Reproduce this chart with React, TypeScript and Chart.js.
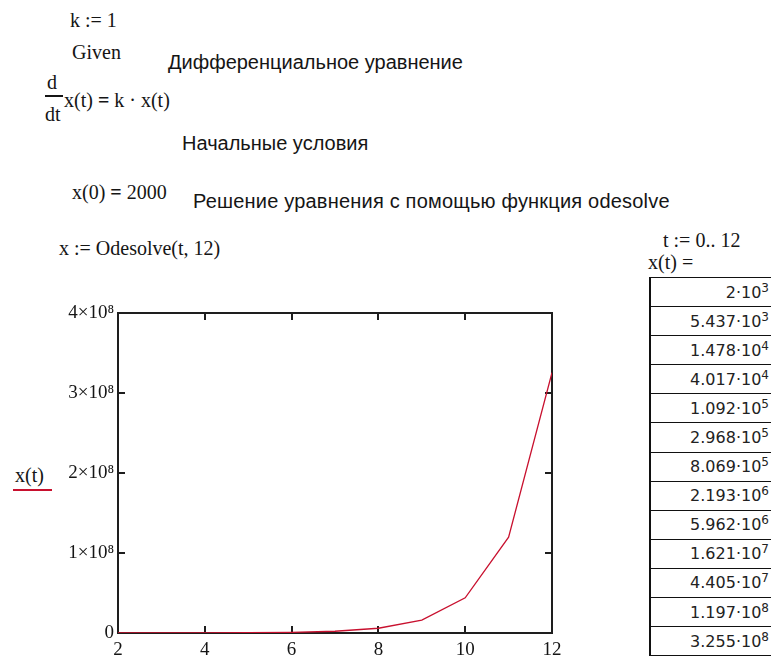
import React, { useEffect, useRef } from "react";
import { Chart, registerables } from "chart.js";

Chart.register(...registerables);

// ---- data ----
const tValues = [0, 1, 2, 3, 4, 5, 6, 7, 8, 9, 10, 11, 12];
const xValues = [
  2000, 5437, 14780, 40170, 109200, 296800, 806900, 2193000, 5962000,
  16210000, 44050000, 119700000, 325500000,
];
const tableMantissas = [
  "2", "5.437", "1.478", "4.017", "1.092", "2.968", "8.069", "2.193",
  "5.962", "1.621", "4.405", "1.197", "3.255",
];
const tableExponents = ["3", "3", "4", "4", "5", "5", "5", "6", "6", "7", "7", "8", "8"];
const xTickValues = [2, 4, 6, 8, 10, 12];
const yTickValues = [0, 100000000, 200000000, 300000000, 400000000];
const yTickLabels = ["0", "1×10⁸", "2×10⁸", "3×10⁸", "4×10⁸"];

const SERIF = "'Liberation Serif', 'Times New Roman', serif";
const SANS = "'Liberation Sans', Arial, sans-serif";
const TABLE_FONT = "'DejaVu Sans', Verdana, sans-serif";
const LINE_COLOR = "#c8102e";

const framePlugin = {
  id: "mathcadFrame",
  beforeDatasetsDraw(chart: any) {
    const { ctx, chartArea, scales } = chart;
    const { left, right, top, bottom } = chartArea;
    const xs = scales.x;
    const ys = scales.y;
    ctx.save();
    ctx.strokeStyle = "#1e1e1e";
    ctx.lineWidth = 2;
    ctx.strokeRect(left, top, right - left, bottom - top);
    ctx.beginPath();
    const tl = 7;
    xTickValues.slice(1, -1).forEach((v) => {
      const px = Math.round(xs.getPixelForValue(v));
      ctx.moveTo(px, bottom);
      ctx.lineTo(px, bottom - tl);
      ctx.moveTo(px, top);
      ctx.lineTo(px, top + tl);
    });
    yTickValues.slice(1, -1).forEach((v) => {
      const py = Math.round(ys.getPixelForValue(v));
      ctx.moveTo(left, py);
      ctx.lineTo(left + tl, py);
      ctx.moveTo(right, py);
      ctx.lineTo(right - tl, py);
    });
    ctx.stroke();
    ctx.restore();
  },
};

function T(props: { x: number; y: number; font: string; size: number; children: any; style?: any }) {
  return (
    <div
      style={{
        position: "absolute",
        left: props.x,
        top: props.y,
        transform: "translateY(-50%)",
        fontFamily: props.font,
        fontSize: props.size,
        lineHeight: 1,
        whiteSpace: "nowrap",
        color: "#151515",
        ...(props.style || {}),
      }}
    >
      {props.children}
    </div>
  );
}

function ExpChart() {
  const ref = useRef<HTMLCanvasElement | null>(null);
  useEffect(() => {
    if (!ref.current) return;
    const chart = new Chart(ref.current, {
      type: "line",
      data: {
        datasets: [
          {
            label: "x(t)",
            data: tValues.map((t, i) => ({ x: t, y: xValues[i] })),
            borderColor: LINE_COLOR,
            borderWidth: 1.3,
            pointRadius: 0,
            tension: 0,
            fill: false,
          },
        ],
      },
      options: {
        animation: false,
        responsive: false,
        maintainAspectRatio: false,
        devicePixelRatio: 1,
        layout: { padding: { left: 0, top: 23, right: 48, bottom: 0 } },
        plugins: { legend: { display: false }, tooltip: { enabled: false } },
        scales: {
          x: {
            type: "linear",
            min: 2,
            max: 12,
            grid: { display: false, drawTicks: false },
            border: { display: false },
            afterFit: (s: any) => {
              s.height = 31;
            },
            afterBuildTicks: (s: any) => {
              s.ticks = xTickValues.map((v) => ({ value: v }));
            },
            ticks: {
              padding: 6,
              color: "#151515",
              maxRotation: 0,
              autoSkip: false,
              font: { family: SERIF, size: 19 },
              callback: (v: any) => String(v),
            },
          },
          y: {
            type: "linear",
            min: 0,
            max: 400000000,
            grid: { display: false, drawTicks: false },
            border: { display: false },
            afterFit: (s: any) => {
              s.width = 118;
            },
            afterBuildTicks: (s: any) => {
              s.ticks = yTickValues.map((v) => ({ value: v }));
            },
            ticks: {
              padding: 4,
              color: "#151515",
              autoSkip: false,
              font: { family: SERIF, size: 19 },
              callback: (v: any) => {
                const i = yTickValues.indexOf(Number(v));
                return i >= 0 ? yTickLabels[i] : "";
              },
            },
          },
        },
      },
      plugins: [framePlugin],
    } as any);
    return () => chart.destroy();
  }, []);
  return (
    <canvas
      ref={ref}
      width={600}
      height={374}
      style={{ position: "absolute", left: 0, top: 290, width: 600, height: 374 }}
    />
  );
}

export default function App() {
  const rowH = 29.6;
  return (
    <div
      style={{
        position: "absolute",
        left: 0,
        top: 0,
        width: 771,
        height: 664,
        overflow: "hidden",
        background: "#fff",
      }}
    >
      <T x={70} y={20} font={SERIF} size={20}>k := 1</T>
      <T x={72} y={52} font={SERIF} size={20}>Given</T>
      <T x={168} y={62} font={SANS} size={20}>Дифференциальное уравнение</T>

      {/* d/dt x(t) = k · x(t) */}
      <T x={47} y={82} font={SERIF} size={20}>d</T>
      <div style={{ position: "absolute", left: 45, top: 95, width: 18, height: 1.5, background: "#151515" }} />
      <T x={45} y={114} font={SERIF} size={20}>dt</T>
      <T x={64} y={100} font={SERIF} size={20}>
        x(t) <b>=</b> k · x(t)
      </T>

      <T x={182} y={143} font={SANS} size={20}>Начальные условия</T>
      <T x={72} y={192} font={SERIF} size={20}>
        x(0) <b>=</b> 2000
      </T>
      <T x={193} y={201} font={SANS} size={20} style={{ letterSpacing: 0.2 }}>
        Решение уравнения с помощью функция odesolve
      </T>
      <T x={59} y={248} font={SERIF} size={20}>x := Odesolve(t, 12)</T>

      <T x={663} y={240} font={SERIF} size={20}>t := 0.. 12</T>
      <T x={648} y={262} font={SERIF} size={20}>x(t) =</T>

      {/* table */}
      <div
        style={{
          position: "absolute",
          left: 649,
          top: 277,
          width: 140,
          borderLeft: "2px solid #111",
          borderTop: "1.5px solid #111",
        }}
      >
        {tableMantissas.map((m, i) => (
          <div
            key={i}
            style={{
              height: rowH - 1.5,
              borderBottom: "1.5px solid #111",
              display: "flex",
              alignItems: "center",
              justifyContent: "flex-end",
              paddingRight: 22,
              fontFamily: TABLE_FONT,
              fontSize: 16,
              color: "#222",
            }}
          >
            <span>
              {m}·10<sup style={{ fontSize: 12, verticalAlign: 0, position: "relative", top: -6 }}>{tableExponents[i]}</sup>
            </span>
          </div>
        ))}
      </div>

      {/* y-axis label (legend) */}
      <T x={15} y={475} font={SERIF} size={20}>x(t)</T>
      <div style={{ position: "absolute", left: 13, top: 489, width: 39, height: 1.5, background: LINE_COLOR }} />

      <ExpChart />
    </div>
  );
}
